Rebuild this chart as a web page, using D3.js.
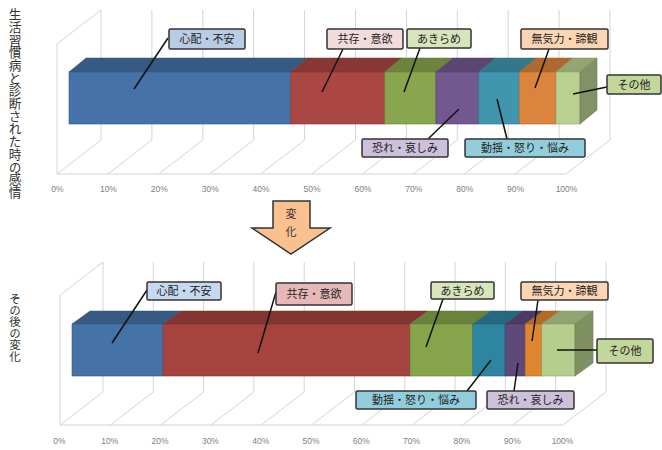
<!DOCTYPE html>
<html lang="ja">
<head>
<meta charset="utf-8">
<script src="https://cdn.jsdelivr.net/npm/d3@7"></script>
<style>
  html, body { margin: 0; padding: 0; background: #fff; }
  svg { display: block; }
  text { font-family: "Noto Sans CJK JP", sans-serif; }
</style>
</head>
<body>
<svg id="chart" width="662" height="450"></svg>
<script>
// Emotion categories shared by both rows
const categories = ["心配・不安", "共存・意欲", "あきらめ", "恐れ・哀しみ", "動揺・怒り・悩み", "無気力・諦観", "その他"];

// Bar and callout colours per row, indexed like the categories
const diagnosisColors = ["#4572a7", "#aa4643", "#89a54e", "#71588f", "#3f96ae", "#db843d", "#b9d091"];
const diagnosisLabelColors = ["#b8cce4", "#f2dcdb", "#d7e4bc", "#ccc0da", "#92cddc", "#fcd5b4", "#c3d69b"];
const laterColors = ["#4572a7", "#a5433f", "#86a44a", "#5f497a", "#2e85a0", "#e0862f", "#b5cd8d"];
const laterLabelColors = ["#c6d9f1", "#e6b9b8", "#d7e4bc", "#ccc0da", "#92cddc", "#fcd5b4", "#c3d69b"];

// Shares at diagnosis (percent), in stacking order
const diagnosisOrder = [0, 1, 2, 3, 4, 5, 6];
const diagnosisValues = [43.4, 18.4, 10.0, 8.4, 7.9, 7.2, 4.7];

// Shares afterwards (percent), in stacking order
const laterOrder = [0, 1, 2, 4, 3, 5, 6];
const laterValues = [18.1, 49.1, 12.5, 6.4, 4.0, 3.3, 6.6];

const tickValues = [0, 10, 20, 30, 40, 50, 60, 70, 80, 90, 100];

const titles = ["生活習慣病と診断された時の感情", "その後の変化"];

const svg = d3.select("#chart");

// Draws one pseudo-3D stacked bar with walls, floor and axis labels
function drawPanel(cfg) {
  const g = svg.append("g");
  const axis = d3.scaleLinear().domain([0, 100]).range([cfg.floorLeft, cfg.floorRight]);
  const bar = d3.scaleLinear().domain([0, 100]).range([cfg.barLeft, cfg.barRight]);
  const wall = "#d4d4d4";

  // Back wall gridlines and floor diagonals
  tickValues.forEach(t => {
    const fx = axis(t), bx = fx + cfg.wallDx;
    g.append("path")
      .attr("d", `M${fx},${cfg.floorY}L${bx},${cfg.backBottom}L${bx},${cfg.backTop}`)
      .attr("fill", "none").attr("stroke", wall).attr("stroke-width", 1);
  });
  g.append("path")
    .attr("d", `M${axis(0)},${cfg.floorY}L${axis(100)},${cfg.floorY}`)
    .attr("stroke", wall).attr("stroke-width", 1);
  g.append("path")
    .attr("d", `M${axis(0)},${cfg.floorY}L${axis(0)},${cfg.floorY - cfg.backBottom + cfg.backTop}L${axis(0) + cfg.wallDx},${cfg.backTop}`)
    .attr("fill", "none").attr("stroke", wall).attr("stroke-width", 1);

  // Tick labels come from the library's bottom axis
  const axisG = g.append("g")
    .attr("transform", `translate(${cfg.tickShift},${cfg.floorY + cfg.tickGap})`)
    .call(d3.axisBottom(axis).tickValues(tickValues).tickFormat(d => d + "%").tickSize(0).tickPadding(0));
  axisG.select(".domain").remove();
  axisG.selectAll("text")
    .attr("fill", "#808080").attr("font-size", 8.5).style("font-family", "'Liberation Sans', sans-serif");

  // Stack the shares in the given order
  let acc = 0;
  const segments = cfg.values.map((v, i) => {
    const s = { cat: cfg.order[i], start: acc, end: acc + v };
    acc += v;
    return s;
  });

  const dx = cfg.depthX, dy = cfg.depthY, top = cfg.barTop, bot = cfg.barBottom;
  const seg = g.selectAll("g.segment").data(segments).join("g").attr("class", "segment");
  seg.append("path")
    .attr("d", d => `M${bar(d.start)},${top}L${bar(d.start) + dx},${top - dy}L${bar(d.end) + dx},${top - dy}L${bar(d.end)},${top}Z`)
    .attr("fill", d => d3.color(cfg.colors[d.cat]).darker(0.65))
    .attr("stroke", d => d3.color(cfg.colors[d.cat]).darker(0.9)).attr("stroke-width", 0.5);
  seg.append("rect")
    .attr("x", d => bar(d.start)).attr("y", top)
    .attr("width", d => bar(d.end) - bar(d.start)).attr("height", bot - top)
    .attr("fill", d => cfg.colors[d.cat])
    .attr("stroke", d => d3.color(cfg.colors[d.cat]).darker(0.7)).attr("stroke-width", 0.6);

  // Right end cap of the last segment
  const last = segments[segments.length - 1];
  g.append("path")
    .attr("d", `M${bar(100)},${top}L${bar(100) + dx},${top - dy}L${bar(100) + dx},${bot - dy}L${bar(100)},${bot}Z`)
    .attr("fill", d3.color(cfg.colors[last.cat]).darker(1))
    .attr("stroke", d3.color(cfg.colors[last.cat]).darker(1.4)).attr("stroke-width", 0.6);

  // Callout labels with leader lines
  cfg.callouts.forEach(c => {
    g.append("line")
      .attr("x1", c.from[0]).attr("y1", c.from[1]).attr("x2", c.to[0]).attr("y2", c.to[1])
      .attr("stroke", "#111").attr("stroke-width", 1.5);
  });
  cfg.callouts.forEach(c => {
    g.append("rect")
      .attr("x", c.box[0]).attr("y", c.box[1]).attr("width", c.box[2]).attr("height", c.box[3])
      .attr("rx", 1.5)
      .attr("fill", cfg.labelColors[c.cat]).attr("stroke", "#333").attr("stroke-width", 1.5);
    g.append("text")
      .attr("x", c.box[0] + c.box[2] / 2).attr("y", c.box[1] + c.box[3] / 2 + 4)
      .attr("text-anchor", "middle").attr("font-size", 11).attr("fill", "#222")
      .text(categories[c.cat]);
  });
}

drawPanel({
  floorLeft: 57, floorRight: 566, floorY: 174, wallDx: 44, backTop: 10, backBottom: 140,
  barLeft: 69, barRight: 580, barTop: 72, barBottom: 124, depthX: 17, depthY: 14,
  tickShift: 0, tickGap: 12,
  colors: diagnosisColors, labelColors: diagnosisLabelColors,
  values: diagnosisValues, order: diagnosisOrder,
  callouts: [
    { cat: 0, box: [169, 29, 76, 20], from: [168, 38], to: [134, 89] },
    { cat: 1, box: [327, 29, 76, 20], from: [343, 49], to: [322, 92] },
    { cat: 2, box: [407, 29, 64, 19], from: [420, 48], to: [404, 92] },
    { cat: 5, box: [521, 29, 87, 20], from: [549, 49], to: [535, 88] },
    { cat: 6, box: [607, 75, 54, 19], from: [607, 87], to: [573, 94] },
    { cat: 3, box: [362, 139, 86, 18], from: [428, 139], to: [459, 109] },
    { cat: 4, box: [465, 139, 120, 18], from: [507, 139], to: [497, 99] }
  ]
});

drawPanel({
  floorLeft: 60, floorRight: 563, floorY: 425, wallDx: 43, backTop: 262, backBottom: 392,
  barLeft: 72, barRight: 575, barTop: 324, barBottom: 376, depthX: 18, depthY: 13,
  tickShift: -1, tickGap: 13,
  colors: laterColors, labelColors: laterLabelColors,
  values: laterValues, order: laterOrder,
  callouts: [
    { cat: 0, box: [147, 282, 74, 18], from: [147, 290], to: [112, 343] },
    { cat: 1, box: [276, 283, 76, 22], from: [276, 292], to: [258, 353] },
    { cat: 2, box: [431, 282, 63, 17], from: [443, 299], to: [426, 347] },
    { cat: 5, box: [521, 282, 87, 18], from: [538, 300], to: [532, 341] },
    { cat: 6, box: [597, 339, 56, 24], from: [597, 350], to: [557, 350] },
    { cat: 4, box: [356, 391, 120, 18], from: [467, 391], to: [491, 360] },
    { cat: 3, box: [487, 391, 87, 18], from: [514, 391], to: [518, 363] }
  ]
});

// Vertical row captions on the left margin
svg.append("text").attr("transform", "translate(13,8)")
  .attr("font-size", 12.7).attr("fill", "#333")
  .style("writing-mode", "vertical-rl").style("text-orientation", "upright")
  .attr("dominant-baseline", "middle")
  .text(titles[0]);
svg.append("text").attr("transform", "translate(13,293)")
  .attr("font-size", 11.5).attr("fill", "#333")
  .style("writing-mode", "vertical-rl").style("text-orientation", "upright")
  .attr("dominant-baseline", "middle")
  .text(titles[1]);

// Block arrow between the two rows
const arrowX = [273, 310, 330, 291, 252];
const arrowY = [201, 228, 254];
svg.append("path")
  .attr("d", `M${arrowX[0]},${arrowY[0]}L${arrowX[1]},${arrowY[0]}L${arrowX[1]},${arrowY[1]}L${arrowX[2]},${arrowY[1]}L${arrowX[3]},${arrowY[2]}L${arrowX[4]},${arrowY[1]}L${arrowX[0]},${arrowY[1]}Z`)
  .attr("fill", "#fac08f").attr("stroke", "#333").attr("stroke-width", 1.5);
svg.append("text").attr("x", 291).attr("y", 218).attr("text-anchor", "middle").attr("font-size", 11).attr("fill", "#333").text("変");
svg.append("text").attr("x", 291).attr("y", 236).attr("text-anchor", "middle").attr("font-size", 11).attr("fill", "#333").text("化");
</script>
</body>
</html>
